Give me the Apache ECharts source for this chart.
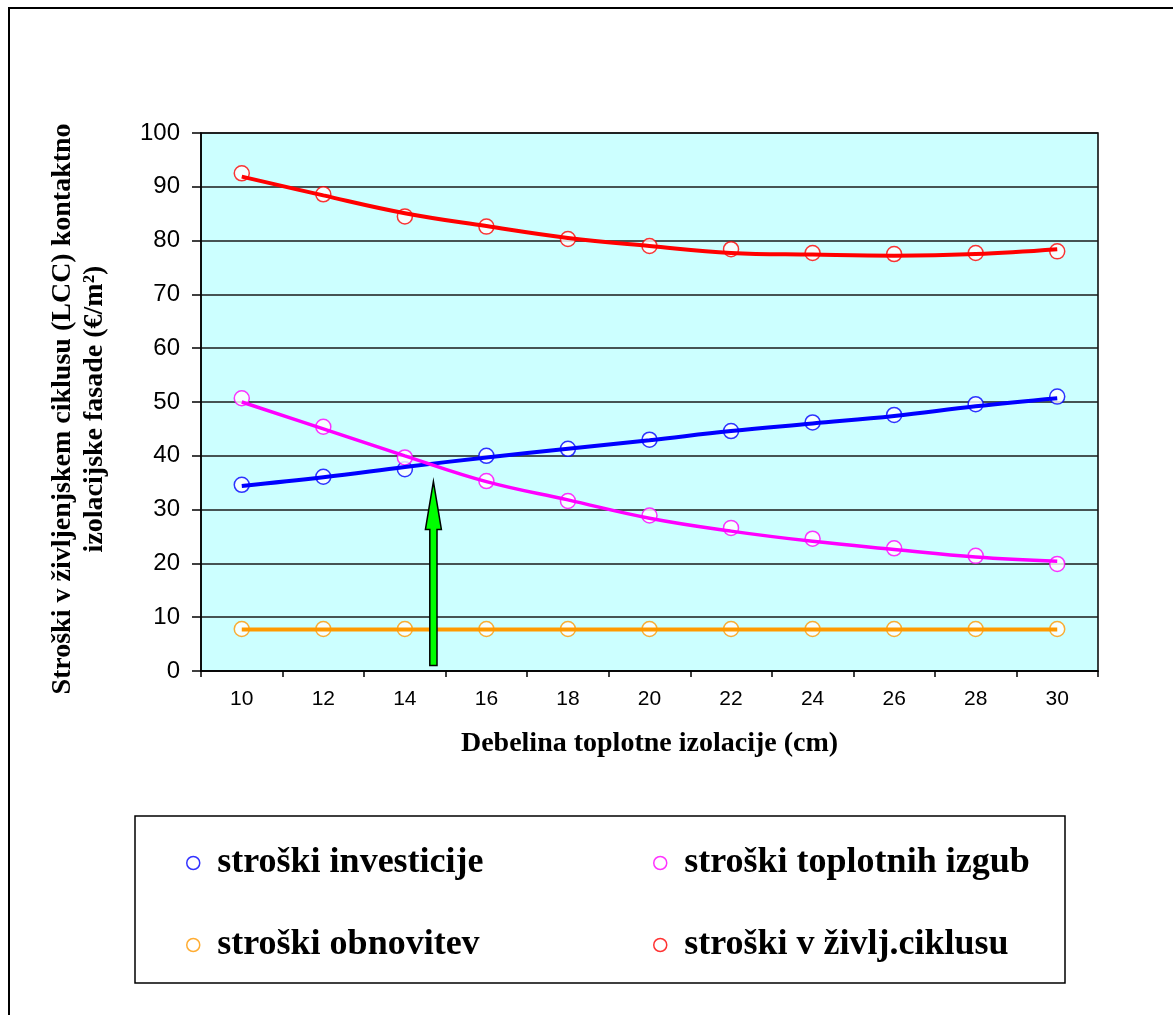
<!DOCTYPE html>
<html>
<head>
<meta charset="utf-8">
<script src="https://cdn.jsdelivr.net/npm/echarts@6/dist/echarts.min.js"></script>
<style>
  html, body { margin: 0; padding: 0; background: #ffffff; }
  #chart { width: 1173px; height: 1015px; }
</style>
</head>
<body>
<div id="chart"></div>
<script>
// Insulation thickness (cm)
const thickness = [10, 12, 14, 16, 18, 20, 22, 24, 26, 28, 30];

// Computed costs (€/m²) per thickness
const investicije    = [34.6, 36.1, 37.5, 40.0, 41.3, 43.0, 44.6, 46.2, 47.6, 49.6, 51.0];
const toplotneIzgube = [50.7, 45.4, 39.7, 35.3, 31.6, 28.9, 26.6, 24.6, 22.8, 21.4, 19.9];
const obnovitev      = [7.8, 7.8, 7.8, 7.8, 7.8, 7.8, 7.8, 7.8, 7.8, 7.8, 7.8];
const zivljCiklus    = [92.5, 88.6, 84.5, 82.6, 80.3, 79.0, 78.4, 77.7, 77.5, 77.7, 78.0];

// Polynomial trend lines evaluated at the same thicknesses
const trendInvesticije    = [34.4, 36.0, 37.9, 39.7, 41.3, 42.9, 44.6, 46.0, 47.4, 49.2, 50.7];
const trendToplotneIzgube = [50.0, 45.0, 40.0, 35.2, 31.8, 28.4, 26.0, 24.1, 22.6, 21.2, 20.4];
const trendObnovitev      = [7.7, 7.7, 7.7, 7.7, 7.7, 7.7, 7.7, 7.7, 7.7, 7.7, 7.7];
const trendZivljCiklus    = [91.9, 88.4, 85.1, 82.7, 80.5, 79.0, 77.7, 77.4, 77.2, 77.5, 78.4];

// Optimum thickness marker (arrow from base value to tip value)
const optimum = [[14.7, 1.0, 35.2]];

// Axis ticks and labels
const xLabelValues = [10, 12, 14, 16, 18, 20, 22, 24, 26, 28, 30];
const xTickValues  = [9, 11, 13, 15, 17, 19, 21, 23, 25, 27, 29, 31];

const names = ['stroški investicije', 'stroški toplotnih izgub', 'stroški obnovitev', 'stroški v življ.ciklusu'];
const colors = ['#0000FF', '#FF00FF', '#FF9900', '#FF0000'];
const points = [investicije, toplotneIzgube, obnovitev, zivljCiklus];
const trends = [trendInvesticije, trendToplotneIzgube, trendObnovitev, trendZivljCiklus];

const pairs = (arr) => thickness.map((t, i) => [t, arr[i]]);

const serif = "'Liberation Serif', 'Times New Roman', serif";
const sans = "'Liberation Sans', Arial, sans-serif";

const series = [];
names.forEach((n, k) => {
  series.push({
    name: n,
    type: 'scatter',
    data: pairs(points[k]),
    symbol: 'circle',
    symbolSize: 15,
    z: 3,
    itemStyle: { color: '#ffffff', borderColor: colors[k], borderWidth: 1.5 }
  });
});
names.forEach((n, k) => {
  series.push({
    name: n + ' (trend)',
    type: 'line',
    data: pairs(trends[k]),
    smooth: 0.4,
    symbol: 'none',
    z: 4,
    lineStyle: { color: colors[k], width: k === 1 ? 3.5 : 4 }
  });
});

series.push({
  name: 'optimum',
  type: 'custom',
  z: 6,
  data: optimum,
  encode: { x: 0, y: [1, 2] },
  renderItem: function (params, api) {
    const base = api.coord([api.value(0), api.value(1)]);
    const tip = api.coord([api.value(0), api.value(2)]);
    const x = base[0];
    const sw = 3.6, hw = 8, hl = 48;
    return {
      type: 'polygon',
      shape: {
        points: [
          [x - sw, base[1]], [x - sw, tip[1] + hl], [x - hw, tip[1] + hl],
          [x, tip[1]],
          [x + hw, tip[1] + hl], [x + sw, tip[1] + hl], [x + sw, base[1]]
        ]
      },
      style: { fill: '#00FF00', stroke: '#000000', lineWidth: 1.5 }
    };
  }
});

const legendText = { fontFamily: serif, fontWeight: 'bold', fontSize: 36, color: '#000000', lineHeight: 36 };
const legendItem = (k) => ({
  name: names[k],
  icon: 'circle',
  itemStyle: { color: '#ffffff', borderColor: colors[k], borderWidth: 1.5 }
});

const option = {
  animation: false,
  backgroundColor: '#ffffff',
  grid: {
    left: 201, top: 133, width: 897, height: 538,
    show: true, backgroundColor: '#CCFFFF', borderColor: '#000000', borderWidth: 1.5
  },
  xAxis: {
    type: 'value',
    min: 9, max: 31,
    name: 'Debelina toplotne izolacije (cm)',
    nameLocation: 'middle',
    nameGap: 57,
    nameTextStyle: { fontFamily: serif, fontWeight: 'bold', fontSize: 28, color: '#000000', lineHeight: 32 },
    axisLine: { lineStyle: { color: '#000000', width: 1.5 } },
    axisTick: { show: true, length: 6, customValues: xTickValues, lineStyle: { color: '#000000', width: 1.5 } },
    axisLabel: { customValues: xLabelValues, margin: 18, fontFamily: sans, fontSize: 21, color: '#000000' },
    splitLine: { show: false }
  },
  yAxis: {
    type: 'value',
    min: 0, max: 100, interval: 10,
    name: 'Stroški v življenjskem ciklusu (LCC) kontaktno\nizolacijske fasade (€/m²)',
    nameLocation: 'middle',
    nameRotate: 90,
    nameGap: 90,
    nameTextStyle: {
      fontFamily: serif, fontWeight: 'bold', fontSize: 28, color: '#000000',
      lineHeight: 32, align: 'center', padding: [0, 14, 0, 0]
    },
    axisLine: { show: true, lineStyle: { color: '#000000', width: 1.5 } },
    axisTick: { show: true, length: 9, lineStyle: { color: '#000000', width: 1.5 } },
    axisLabel: { margin: 21, fontFamily: sans, fontSize: 24, color: '#000000' },
    splitLine: { show: true, lineStyle: { color: '#1a1a1a', width: 1.5 } }
  },
  legend: [
    {
      data: [legendItem(0), legendItem(2)],
      orient: 'vertical', left: 181, top: 840,
      itemWidth: 38, itemHeight: 13, itemGap: 46,
      selectedMode: false, textStyle: legendText
    },
    {
      data: [legendItem(1), legendItem(3)],
      orient: 'vertical', left: 648, top: 840,
      itemWidth: 38, itemHeight: 13, itemGap: 46,
      selectedMode: false, textStyle: legendText
    }
  ],
  graphic: [
    {
      type: 'rect', silent: true, z: -1,
      shape: { x: 9, y: 8, width: 1300, height: 1100 },
      style: { fill: 'none', stroke: '#000000', lineWidth: 2 }
    },
    {
      type: 'rect', silent: true, z: -1,
      shape: { x: 135, y: 816, width: 930, height: 167 },
      style: { fill: '#ffffff', stroke: '#000000', lineWidth: 1.5 }
    }
  ],
  series: series
};

const chart = echarts.init(document.getElementById('chart'), null, { renderer: 'canvas' });
chart.setOption(option);
</script>
</body>
</html>
